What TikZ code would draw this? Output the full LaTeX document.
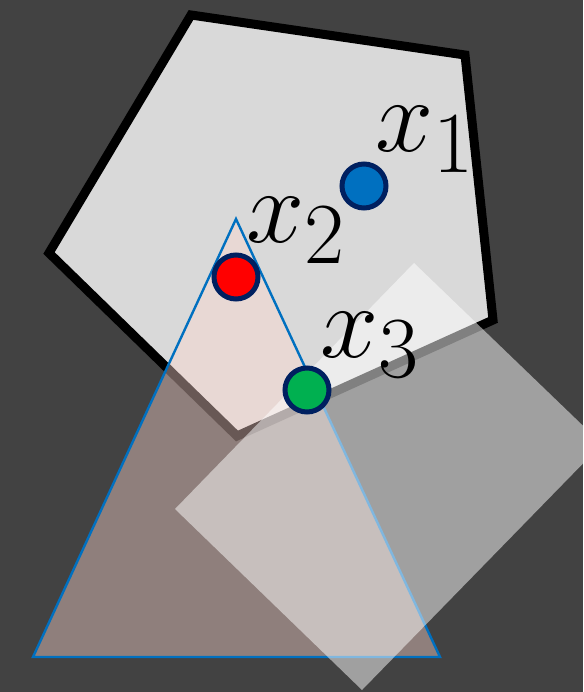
\documentclass[tikz,border=0pt]{standalone}
\usepackage{tikz}
\usetikzlibrary{positioning}
\definecolor{BgGrey}{HTML}{424242}
\definecolor{PentaFill}{HTML}{D9D9D9}
\definecolor{TriFill}{HTML}{FED7CF}
\definecolor{TriEdge}{HTML}{0070C0}
\definecolor{DotRed}{HTML}{FF0000}
\definecolor{DotGreen}{HTML}{00B050}
\definecolor{DotBlue}{HTML}{0070C0}
\definecolor{DotRim}{HTML}{002060}
\tikzset{
  % Feasible set outline
  penta/.style={draw=black, line width=9pt, fill=PentaFill},
  % Translucent triangle
  tri/.style={draw=TriEdge, line width=2.4pt, fill=TriFill, fill opacity=0.41},
  % Translucent rectangle
  rect/.style={fill=white, fill opacity=0.5},
  % Point marker
  dot/.style={
    circle, draw=DotRim, fill=#1, line width=5pt,
    minimum size=44pt, inner sep=0pt
  },
  % Point label
  lbl/.style={anchor=base west, inner sep=0pt, font=\Huge, scale=4.2}
}
\begin{document}
\begin{tikzpicture}[x=1pt, y=-1pt]

  % ---- FRAME ----
  \fill[BgGrey] (0,0) rectangle (583,692);
  \useasboundingbox (0,0) rectangle (583,692);
  \clip (0,0) rectangle (583,692);

  % ---- SHAPES ----
  \draw[penta] (191,15) -- (465,55) -- (493,320) -- (237,436) -- (49,253) -- cycle;
  \draw[tri] (236,219) -- (33,657) -- (440,657) -- cycle;
  \fill[rect] (414,263) -- (602,444) -- (362,690) -- (175,509) -- cycle;

  % ---- POINTS ----
  \node[dot=DotBlue]  (x1) at (364,186) {};
  \node[dot=DotRed]   (x2) at (236,277) {};
  \node[dot=DotGreen] (x3) at (307,390) {};

  % ---- LABELS ----
  \node[lbl] (l1) at (375,152) {$x_1$};
  \node[lbl] (l2) at (246,243) {$x_2$};
  \node[lbl] (l3) at (320,357) {$x_3$};

\end{tikzpicture}
\end{document}
